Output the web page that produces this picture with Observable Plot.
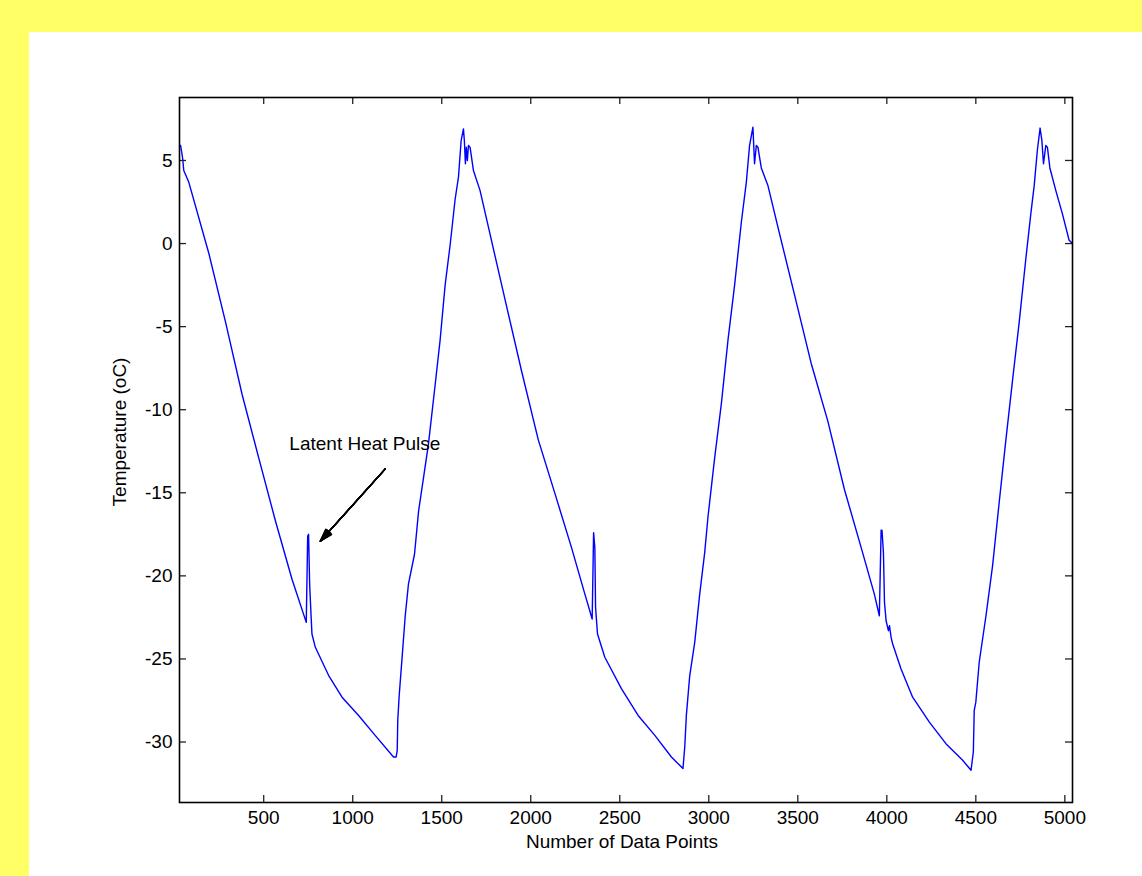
<!DOCTYPE html>
<html><head><meta charset="utf-8">
<script src="https://cdn.jsdelivr.net/npm/d3@7"></script>
<script src="https://cdn.jsdelivr.net/npm/@observablehq/plot@0.6"></script>
<style>
html,body{margin:0;padding:0;background:#ffff66;width:1142px;height:876px;overflow:hidden;}
#paper{position:absolute;left:29px;top:32px;right:0;bottom:0;background:#fff;}
#chart{position:absolute;left:0;top:0;}
</style></head><body>
<div id="paper"></div><div id="chart"></div>
<script>
// Sample index (x) and temperature (y)
const dataPoints = [27,33,38,45,51,79,192,285,379,472,566,659,739,747,752,758,766,771,790,865,940,1033,1126,1229,1244,1250,1253,1261,1276,1295,1313,1347,1370,1425,1463,1491,1519,1547,1575,1594,1609,1622,1627,1633,1638,1644,1650,1659,1678,1715,1762,1855,1949,2042,2136,2229,2304,2345,2353,2360,2364,2375,2416,2510,2603,2697,2790,2855,2865,2874,2893,2921,2949,2977,2996,3033,3071,3108,3145,3183,3211,3229,3248,3257,3267,3276,3295,3332,3388,3482,3575,3669,3762,3856,3930,3958,3968,3973,3981,3987,3996,4009,4015,4024,4033,4080,4145,4239,4332,4426,4473,4486,4491,4500,4519,4557,4594,4631,4669,4706,4744,4781,4809,4828,4846,4861,4871,4880,4893,4902,4916,4949,4986,5024,5043];
const temperature = [5.9,5.9,5.6,5.1,4.4,3.7,-0.6,-4.7,-9.1,-12.9,-16.7,-20.2,-22.8,-17.6,-17.5,-20.5,-22.4,-23.5,-24.3,-26.0,-27.3,-28.4,-29.6,-30.9,-30.9,-30.5,-28.7,-27.2,-25.1,-22.4,-20.5,-18.7,-16.1,-12.1,-8.5,-5.8,-2.5,-0.1,2.65,4.0,6.2,6.9,6.2,4.8,5.8,5.0,5.9,5.8,4.4,3.2,1.0,-3.35,-7.7,-11.8,-15.05,-18.3,-21.1,-22.6,-17.4,-18.3,-21.9,-23.5,-24.9,-26.8,-28.4,-29.6,-30.9,-31.6,-30.3,-28.4,-26.0,-24.0,-21.1,-18.6,-16.4,-12.9,-9.6,-5.8,-2.5,1.3,3.7,5.9,7.0,4.8,5.9,5.8,4.55,3.5,1.0,-3.1,-7.2,-10.7,-14.8,-18.3,-21.1,-22.4,-17.25,-17.25,-18.6,-21.6,-22.7,-23.3,-23.0,-23.7,-24.1,-25.6,-27.3,-28.8,-30.1,-31.1,-31.7,-30.6,-28.1,-27.6,-25.2,-22.4,-19.4,-15.6,-11.8,-8.25,-4.7,-0.9,1.8,3.5,5.66,6.95,6.2,4.8,5.9,5.8,4.55,3.2,1.8,0.2,0.0];

const xTicks = [500,1000,1500,2000,2500,3000,3500,4000,4500,5000];
const yTicks = [-30,-25,-20,-15,-10,-5,0,5];
const xDomain = [27, 5043];
const yDomain = [-33.64, 8.79];
const xLabel = ["Number of Data Points"];
const yLabel = ["Temperature (oC)"];
const noteText = ["Latent Heat Pulse"];
const noteX = [644];
const noteY = [-12.05];
const arrowX1 = [1183], arrowY1 = [-13.56], arrowX2 = [818], arrowY2 = [-17.91];

const W = 1142, H = 876, mL = 179, mR = 70, mT = 97, mB = 74;
const pw = W - mL - mR, ph = H - mT - mB;
const tickLen = 7;
const tickStyle = {stroke: "#222", strokeWidth: 1.3};

const series = dataPoints.map((x, i) => ({x, t: temperature[i]}));
const notes = noteText.map((s, i) => ({s, x: noteX[i], y: noteY[i]}));
const arrows = arrowX1.map((d, i) => ({x1: arrowX1[i], y1: arrowY1[i], x2: arrowX2[i], y2: arrowY2[i]}));

const headMarks = d3.range(0, 37, 4).map(a =>
  Plot.arrow(arrows, {x1: "x1", y1: "y1", x2: "x2", y2: "y2", headLength: 15, headAngle: a, stroke: "black", strokeWidth: 1.3})
);

const chart = Plot.plot({
  width: W, height: H,
  marginLeft: mL, marginRight: mR, marginTop: mT, marginBottom: mB,
  style: {background: "transparent", fontFamily: "'Liberation Sans', Arial, sans-serif", fontSize: "19px", color: "black"},
  x: {domain: xDomain, axis: null},
  y: {domain: yDomain, axis: null},
  marks: [
    Plot.line(series, {x: "x", y: "t", stroke: "#0000ff", strokeWidth: 1.4}),
    Plot.tickX(xTicks, {x: d => d, insetTop: ph - tickLen, ...tickStyle}),
    Plot.tickX(xTicks, {x: d => d, insetBottom: ph - tickLen, ...tickStyle}),
    Plot.tickY(yTicks, {y: d => d, insetRight: pw - tickLen, ...tickStyle}),
    Plot.tickY(yTicks, {y: d => d, insetLeft: pw - tickLen, ...tickStyle}),
    Plot.axisX({ticks: xTicks, tickSize: 0, tickPadding: 8, label: null, tickFormat: d => String(d)}),
    Plot.axisY({ticks: yTicks, tickSize: 0, tickPadding: 7, label: null, tickFormat: d => String(d)}),
    Plot.frame({stroke: "black", strokeWidth: 1.6}),
    ...headMarks,
    Plot.text(notes, {x: "x", y: "y", text: "s", textAnchor: "start", fill: "black"}),
    Plot.text(xLabel, {frameAnchor: "bottom", dy: 39, dx: -4, lineAnchor: "middle", textAnchor: "middle", text: d => d, fill: "black"}),
    Plot.text(yLabel, {frameAnchor: "left", dx: -60, dy: -18, rotate: -90, lineAnchor: "middle", textAnchor: "middle", text: d => d, fill: "black"})
  ]
});
document.getElementById("chart").appendChild(chart);
</script>
</body></html>
